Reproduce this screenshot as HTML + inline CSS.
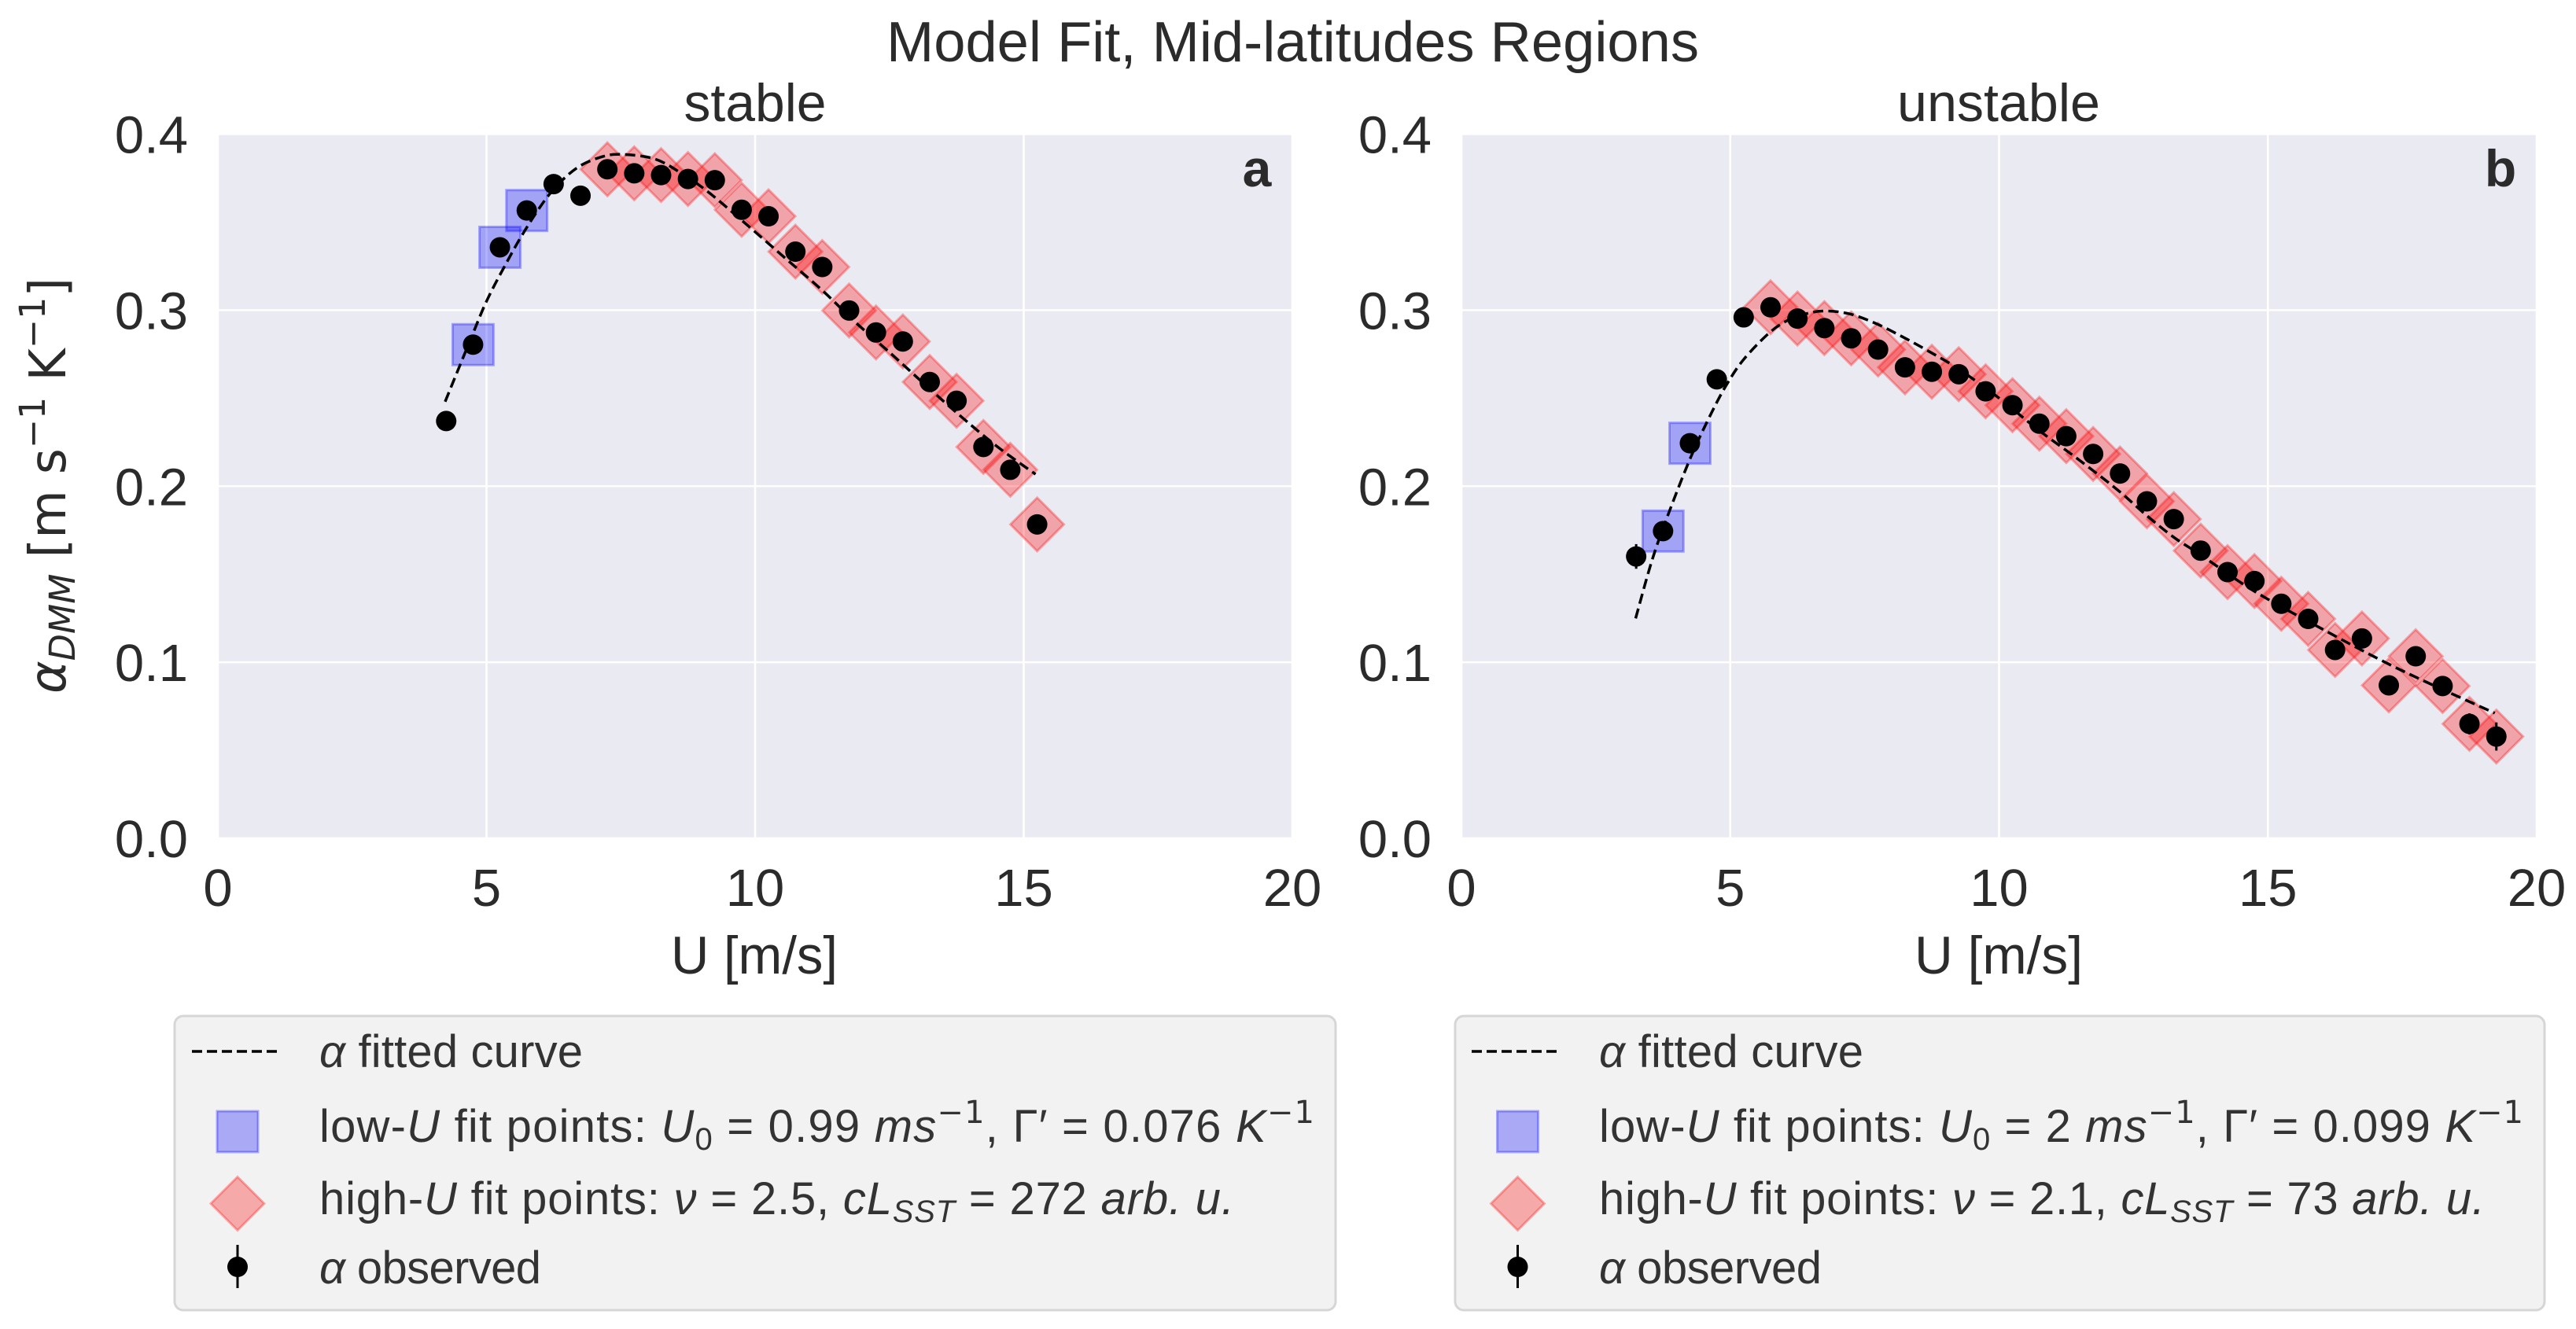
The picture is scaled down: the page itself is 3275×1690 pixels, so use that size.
<!DOCTYPE html>
<html lang="en">
<head>
<meta charset="utf-8">
<title>Model Fit, Mid-latitudes Regions</title>
<style>
html,body{margin:0;padding:0;background:#fff;}
body{width:3275px;height:1690px;overflow:hidden;}
svg{display:block;}
text{font-family:"Liberation Sans",sans-serif;fill:#2b2b2b;}
.legend-text{font-size:58px;fill:#333;}
.math{font-family:"DejaVu Sans",sans-serif;}
</style>
</head>
<body>
<svg id="figure" xmlns="http://www.w3.org/2000/svg" width="3275" height="1690" viewBox="0 0 3275 1690">
  <rect x="0" y="0" width="3275" height="1690" fill="#ffffff"/>
  <text x="1127" y="78" font-size="72" textLength="1033" lengthAdjust="spacingAndGlyphs" fill="#333">Model Fit, Mid-latitudes Regions</text>
  <text x="960" y="154" font-size="68" text-anchor="middle" textLength="181" lengthAdjust="spacingAndGlyphs" fill="#333">stable</text>
  <text x="2541" y="154" font-size="68" text-anchor="middle" textLength="258" lengthAdjust="spacingAndGlyphs" fill="#333">unstable</text>

  <g id="panel-a"></g>
  <g id="panel-b"></g>

  <text x="1598" y="237" font-size="66" font-weight="700" text-anchor="middle" fill="#333">a</text>
  <text x="3179" y="237" font-size="66" font-weight="700" text-anchor="middle" fill="#333">b</text>

  <text x="959" y="1238" font-size="68" text-anchor="middle" textLength="212" lengthAdjust="spacingAndGlyphs" fill="#333">U [m/s]</text>
  <text x="2541" y="1238" font-size="68" text-anchor="middle" textLength="214" lengthAdjust="spacingAndGlyphs" fill="#333">U [m/s]</text>

  <text transform="translate(83,882) rotate(-90)" font-size="64" textLength="529" lengthAdjust="spacingAndGlyphs" fill="#333" class="math" style="font-family:'DejaVu Sans',sans-serif"><tspan font-style="italic">α</tspan><tspan font-style="italic" font-size="45" dy="12">DMM</tspan><tspan dy="-12"> [m s</tspan><tspan font-size="45" dy="-26">−1</tspan><tspan dy="26"> K</tspan><tspan font-size="45" dy="-26">−1</tspan><tspan dy="26">]</tspan></text>

  <g>
    <rect x="222" y="1292" width="1476" height="374" rx="11" fill="#f2f2f2" stroke="#d6d6d6" stroke-width="3"/>
    <g>
      <line x1="244" y1="1337" x2="357" y2="1337" stroke="#000" stroke-width="3.5" stroke-dasharray="13 6"/>
      <text class="legend-text" x="406" y="1357" textLength="335"><tspan font-style="italic">α</tspan> fitted curve</text>
    </g>
    <g>
      <rect x="276" y="1413" width="52" height="52" fill="#0000ff" fill-opacity="0.3" stroke="#0000ff" stroke-opacity="0.3" stroke-width="3"/>
      <text class="legend-text" x="406" y="1452" textLength="1265">low-<tspan font-style="italic">U</tspan> fit points: <tspan font-style="italic">U</tspan><tspan font-size="40" dy="10">0</tspan><tspan dy="-10"> = 0.99 </tspan><tspan font-style="italic">ms</tspan><tspan font-size="40" dy="-24" class="math">−1</tspan><tspan dy="24">, Γ′ = 0.076 </tspan><tspan font-style="italic">K</tspan><tspan font-size="40" dy="-24" class="math">−1</tspan></text>
    </g>
    <g>
      <path d="M302 1496.5L336 1530.5L302 1564.5L268 1530.5Z" fill="#ff0000" fill-opacity="0.3" stroke="#ff0000" stroke-opacity="0.3" stroke-width="3"/>
      <text class="legend-text" x="406" y="1544" textLength="1163">high-<tspan font-style="italic">U</tspan> fit points: <tspan font-style="italic">ν</tspan> = 2.5, <tspan font-style="italic">cL</tspan><tspan font-size="40" dy="10" font-style="italic">SST</tspan><tspan dy="-10"> = 272 </tspan><tspan font-style="italic">arb. u.</tspan></text>
    </g>
    <g>
      <line x1="302" y1="1583" x2="302" y2="1638" stroke="#000" stroke-width="3"/>
      <circle cx="302" cy="1611" r="13" fill="#000"/>
      <text class="legend-text" x="406" y="1632" textLength="282"><tspan font-style="italic">α</tspan> observed</text>
    </g>
  </g>

  <g>
    <rect x="1850" y="1292" width="1385" height="374" rx="11" fill="#f2f2f2" stroke="#d6d6d6" stroke-width="3"/>
    <g>
      <line x1="1871" y1="1337" x2="1985" y2="1337" stroke="#000" stroke-width="3.5" stroke-dasharray="13 6"/>
      <text class="legend-text" x="2033" y="1357" textLength="336"><tspan font-style="italic">α</tspan> fitted curve</text>
    </g>
    <g>
      <rect x="1903.5" y="1413" width="52" height="52" fill="#0000ff" fill-opacity="0.3" stroke="#0000ff" stroke-opacity="0.3" stroke-width="3"/>
      <text class="legend-text" x="2033" y="1452" textLength="1175">low-<tspan font-style="italic">U</tspan> fit points: <tspan font-style="italic">U</tspan><tspan font-size="40" dy="10">0</tspan><tspan dy="-10"> = 2 </tspan><tspan font-style="italic">ms</tspan><tspan font-size="40" dy="-24" class="math">−1</tspan><tspan dy="24">, Γ′ = 0.099 </tspan><tspan font-style="italic">K</tspan><tspan font-size="40" dy="-24" class="math">−1</tspan></text>
    </g>
    <g>
      <path d="M1929.5 1496.5L1963.5 1530.5L1929.5 1564.5L1895.5 1530.5Z" fill="#ff0000" fill-opacity="0.3" stroke="#ff0000" stroke-opacity="0.3" stroke-width="3"/>
      <text class="legend-text" x="2033" y="1544" textLength="1126">high-<tspan font-style="italic">U</tspan> fit points: <tspan font-style="italic">ν</tspan> = 2.1, <tspan font-style="italic">cL</tspan><tspan font-size="40" dy="10" font-style="italic">SST</tspan><tspan dy="-10"> = 73 </tspan><tspan font-style="italic">arb. u.</tspan></text>
    </g>
    <g>
      <line x1="1929.5" y1="1583" x2="1929.5" y2="1638" stroke="#000" stroke-width="3"/>
      <circle cx="1929.5" cy="1611" r="13" fill="#000"/>
      <text class="legend-text" x="2033" y="1632" textLength="283"><tspan font-style="italic">α</tspan> observed</text>
    </g>
  </g>
</svg>

<script>
// Axis tick values and labels
const xTicks = [0, 5, 10, 15, 20];
const xTickLabels = ["0", "5", "10", "15", "20"];
const yTicks = [0, 0.1, 0.2, 0.3, 0.4];
const yTickLabels = ["0.0", "0.1", "0.2", "0.3", "0.4"];

// Stable panel
const stableU = [4.25, 4.75, 5.25, 5.75, 6.25, 6.75, 7.25, 7.75, 8.25, 8.75, 9.25, 9.75, 10.25, 10.75, 11.25, 11.75, 12.25, 12.75, 13.25, 13.75, 14.25, 14.75, 15.25];
const stableAlpha = [0.237, 0.2804, 0.3357, 0.3566, 0.3716, 0.365, 0.380, 0.3777, 0.3767, 0.3745, 0.3738, 0.357, 0.3533, 0.3332, 0.3245, 0.2998, 0.2873, 0.2822, 0.2592, 0.2485, 0.2223, 0.2093, 0.1783];
const stableErr = [0.003, 0.003, 0.003, 0.003, 0.003, 0.003, 0.002, 0.002, 0.002, 0.002, 0.002, 0.002, 0.002, 0.002, 0.002, 0.002, 0.002, 0.002, 0.003, 0.003, 0.003, 0.003, 0.004];
const stableLowU = [4.75, 5.25, 5.75];
const stableHighU = [7.25, 7.75, 8.25, 8.75, 9.25, 9.75, 10.25, 10.75, 11.25, 11.75, 12.25, 12.75, 13.25, 13.75, 14.25, 14.75, 15.25];
const stableFitU = [4.23, 4.73, 5.0, 5.31, 5.71, 6.19, 6.68, 7.17, 7.56, 8.14, 8.63, 9.12, 9.76, 10.6, 11.27, 11.85, 12.54, 13.13, 13.76, 14.49, 15.22];
const stableFitAlpha = [0.248, 0.2854, 0.305, 0.3234, 0.345, 0.3665, 0.3807, 0.3873, 0.3884, 0.3858, 0.3777, 0.3673, 0.3508, 0.3285, 0.3107, 0.2936, 0.275, 0.2586, 0.2415, 0.2229, 0.2068];

// Unstable panel
const unstableU = [3.25, 3.75, 4.25, 4.75, 5.25, 5.75, 6.25, 6.75, 7.25, 7.75, 8.25, 8.75, 9.25, 9.75, 10.25, 10.75, 11.25, 11.75, 12.25, 12.75, 13.25, 13.75, 14.25, 14.75, 15.25, 15.75, 16.25, 16.75, 17.25, 17.75, 18.25, 18.75, 19.25];
const unstableAlpha = [0.1601, 0.1745, 0.2244, 0.2607, 0.2959, 0.3016, 0.2952, 0.2898, 0.2840, 0.2776, 0.2675, 0.2650, 0.2636, 0.2539, 0.2460, 0.2355, 0.2284, 0.2183, 0.2072, 0.1914, 0.1813, 0.1634, 0.1512, 0.1461, 0.1332, 0.1246, 0.1070, 0.1135, 0.0869, 0.1034, 0.0865, 0.0650, 0.0578];
const unstableErr = [0.007, 0.004, 0.003, 0.003, 0.002, 0.002, 0.002, 0.002, 0.002, 0.002, 0.002, 0.002, 0.002, 0.002, 0.002, 0.002, 0.002, 0.002, 0.002, 0.002, 0.002, 0.002, 0.002, 0.002, 0.003, 0.003, 0.003, 0.003, 0.003, 0.003, 0.004, 0.006, 0.008];
const unstableLowU = [3.75, 4.25];
const unstableHighU = [5.75, 6.25, 6.75, 7.25, 7.75, 8.25, 8.75, 9.25, 9.75, 10.25, 10.75, 11.25, 11.75, 12.25, 12.75, 13.25, 13.75, 14.25, 14.75, 15.25, 15.75, 16.25, 16.75, 17.25, 17.75, 18.25, 18.75, 19.25];
const unstableFitU = [3.24, 3.54, 3.83, 4.27, 4.66, 4.95, 5.25, 5.69, 6.03, 6.42, 6.76, 7.2, 7.68, 8.17, 8.66, 9.25, 9.98, 10.73, 11.45, 12.2, 12.74, 13.25, 13.75, 14.74, 15.98, 17.05, 17.93, 19.22];
const unstableFitAlpha = [0.1249, 0.1574, 0.1827, 0.2168, 0.2422, 0.2586, 0.2720, 0.2861, 0.2936, 0.298, 0.2995, 0.298, 0.2928, 0.2854, 0.2772, 0.2665, 0.2505, 0.232, 0.2158, 0.198, 0.1835, 0.171, 0.161, 0.1405, 0.1194, 0.102, 0.0890, 0.0711];

const SVG_NS = "http://www.w3.org/2000/svg";
const plotTop = 170.5;
const plotBottom = 1066;
const xMax = 20;
const yMax = 0.4;
const SQUARE_HALF = 26;
const DIAMOND_HALF = 34;
const DOT_R = 13;

function yScale(a) {
  return plotBottom - (a / yMax) * (plotBottom - plotTop);
}
function makeXScale(left, right) {
  return function (u) {
    return left + (u / xMax) * (right - left);
  };
}
function make(tag, parent) {
  const el = document.createElementNS(SVG_NS, tag);
  parent.appendChild(el);
  return el;
}
function smoothPath(pts) {
  let d = "M" + pts[0][0].toFixed(2) + " " + pts[0][1].toFixed(2);
  for (let i = 0; i < pts.length - 1; i++) {
    const p0 = pts[Math.max(i - 1, 0)];
    const p1 = pts[i];
    const p2 = pts[i + 1];
    const p3 = pts[Math.min(i + 2, pts.length - 1)];
    const c1x = p1[0] + (p2[0] - p0[0]) / 6;
    const c1y = p1[1] + (p2[1] - p0[1]) / 6;
    const c2x = p2[0] - (p3[0] - p1[0]) / 6;
    const c2y = p2[1] - (p3[1] - p1[1]) / 6;
    d += "C" + c1x.toFixed(2) + " " + c1y.toFixed(2) + " " + c2x.toFixed(2) + " " + c2y.toFixed(2) + " " + p2[0].toFixed(2) + " " + p2[1].toFixed(2);
  }
  return d;
}

function drawPanel(g, left, right, U, alpha, err, lowU, highU, fitU, fitAlpha) {
  const xScale = makeXScale(left, right);

  const bg = make("rect", g);
  
  
  bg.setAttribute("x", left);
  bg.setAttribute("y", plotTop);
  bg.setAttribute("width", right - left);
  bg.setAttribute("height", plotBottom - plotTop);
  bg.setAttribute("fill", "#eaeaf2");

  xTicks.forEach(function (t, i) {
    const line = make("line", g);
    
    
    line.setAttribute("x1", xScale(t));
    line.setAttribute("x2", xScale(t));
    line.setAttribute("y1", plotTop);
    line.setAttribute("y2", plotBottom);
    line.setAttribute("stroke", "#ffffff");
    line.setAttribute("stroke-width", "2.6");

    const label = make("text", g);
    
    
    label.setAttribute("x", xScale(t));
    label.setAttribute("y", 1152);
    label.setAttribute("font-size", "67");
    label.setAttribute("text-anchor", "middle");
    label.textContent = xTickLabels[i];
  });

  yTicks.forEach(function (t, i) {
    const line = make("line", g);
    
    
    line.setAttribute("x1", left);
    line.setAttribute("x2", right);
    line.setAttribute("y1", yScale(t));
    line.setAttribute("y2", yScale(t));
    line.setAttribute("stroke", "#ffffff");
    line.setAttribute("stroke-width", "2.6");

    const label = make("text", g);
    
    
    label.setAttribute("x", left - 38);
    label.setAttribute("y", yScale(t) + 24);
    label.setAttribute("font-size", "67");
    label.setAttribute("text-anchor", "end");
    label.textContent = yTickLabels[i];
  });

  lowU.forEach(function (u) {
    const a = alpha[U.indexOf(u)];
    const sq = make("rect", g);
    
    
    sq.setAttribute("x", xScale(u) - SQUARE_HALF);
    sq.setAttribute("y", yScale(a) - SQUARE_HALF);
    sq.setAttribute("width", SQUARE_HALF * 2);
    sq.setAttribute("height", SQUARE_HALF * 2);
    sq.setAttribute("fill", "#0000ff");
    sq.setAttribute("fill-opacity", "0.3");
    sq.setAttribute("stroke", "#0000ff");
    sq.setAttribute("stroke-opacity", "0.3");
    sq.setAttribute("stroke-width", "3");
  });

  highU.forEach(function (u) {
    const a = alpha[U.indexOf(u)];
    const cx = xScale(u);
    const cy = yScale(a);
    const di = make("path", g);
    
    
    di.setAttribute("d", "M" + cx + " " + (cy - DIAMOND_HALF) + "L" + (cx + DIAMOND_HALF) + " " + cy + "L" + cx + " " + (cy + DIAMOND_HALF) + "L" + (cx - DIAMOND_HALF) + " " + cy + "Z");
    di.setAttribute("fill", "#ff0000");
    di.setAttribute("fill-opacity", "0.3");
    di.setAttribute("stroke", "#ff0000");
    di.setAttribute("stroke-opacity", "0.3");
    di.setAttribute("stroke-width", "3");
  });

  const fitPts = fitU.map(function (u, i) {
    return [xScale(u), yScale(fitAlpha[i])];
  });
  const fit = make("path", g);
  
  
  fit.setAttribute("d", smoothPath(fitPts));
  fit.setAttribute("fill", "none");
  fit.setAttribute("stroke", "#000000");
  fit.setAttribute("stroke-width", "3.5");
  fit.setAttribute("stroke-dasharray", "13 6.5");

  U.forEach(function (u, i) {
    const cx = xScale(u);
    const bar = make("line", g);
    
    
    bar.setAttribute("x1", cx);
    bar.setAttribute("x2", cx);
    bar.setAttribute("y1", yScale(alpha[i] - err[i]));
    bar.setAttribute("y2", yScale(alpha[i] + err[i]));
    bar.setAttribute("stroke", "#000000");
    bar.setAttribute("stroke-width", "3");

    const dot = make("circle", g);
    
    
    dot.setAttribute("cx", cx);
    dot.setAttribute("cy", yScale(alpha[i]));
    dot.setAttribute("r", DOT_R);
    dot.setAttribute("fill", "#000000");
  });
}

drawPanel(document.getElementById("panel-a"), 277, 1643, stableU, stableAlpha, stableErr, stableLowU, stableHighU, stableFitU, stableFitAlpha);
drawPanel(document.getElementById("panel-b"), 1858, 3225, unstableU, unstableAlpha, unstableErr, unstableLowU, unstableHighU, unstableFitU, unstableFitAlpha);
</script>
</body>
</html>
